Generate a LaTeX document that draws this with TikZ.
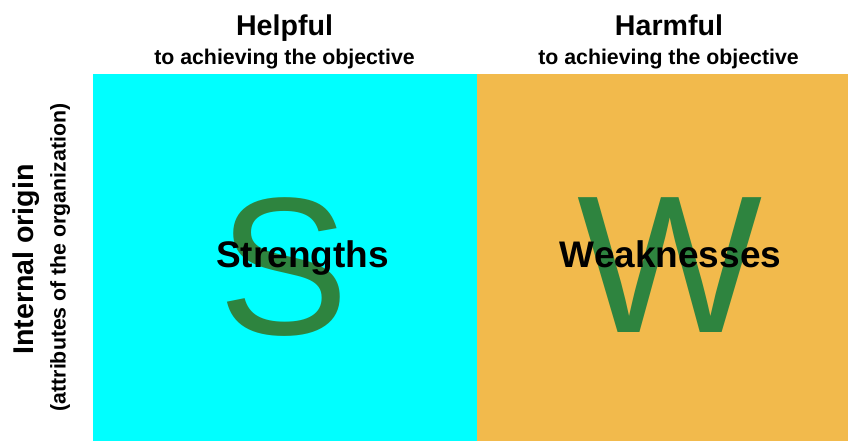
\documentclass[tikz,border=0pt]{standalone}
\usepackage{fontspec}
\setmainfont{Liberation Sans}
\definecolor{swcyan}{HTML}{00FFFF}
\definecolor{sworange}{HTML}{F2BA4C}
\definecolor{swgreen}{HTML}{2E843F}
\begin{document}
\begin{tikzpicture}[x=1pt,y=-1pt,
  head/.style={inner sep=0pt,anchor=base,font=\bfseries\fontsize{28.6}{30}\selectfont},
  sub/.style={inner sep=0pt,anchor=base,font=\bfseries\fontsize{21.3}{23}\selectfont},
  bigletter/.style={inner sep=0pt,anchor=base,text=swgreen,font=\fontsize{196}{200}\selectfont},
  label/.style={inner sep=0pt,anchor=base,font=\bfseries\fontsize{37}{40}\selectfont}]
\useasboundingbox (0,0) rectangle (848,441);
\fill[white] (0,0) rectangle (848,441);
% quadrants
\fill[swcyan] (93,74) rectangle (477,441);
\fill[sworange] (477,74) rectangle (848,441);
% column headings
\node[head] (helpful) at (284.5,35.5) {Helpful};
\node[sub] (helpfulsub) at (284.5,65) {to achieving the objective};
\node[head] (harmful) at (669,35.5) {Harmful};
\node[sub] (harmfulsub) at (668.5,65) {to achieving the objective};
% row heading
\node[head,rotate=90] (internal) at (33,259.5) {Internal origin};
\node[sub,rotate=90] (internalsub) at (65.5,257.5) {(attributes of the organization)};
% quadrant contents: large initial behind the bold label
\node[bigletter] (bigS) at (283.5,334) {S};
\node[label] (strengths) at (302.5,267) {Strengths};
\node[bigletter] (bigW) at (669.5,332) {W};
\node[label] (weaknesses) at (670.5,267) {Weaknesses};
\end{tikzpicture}
\end{document}
